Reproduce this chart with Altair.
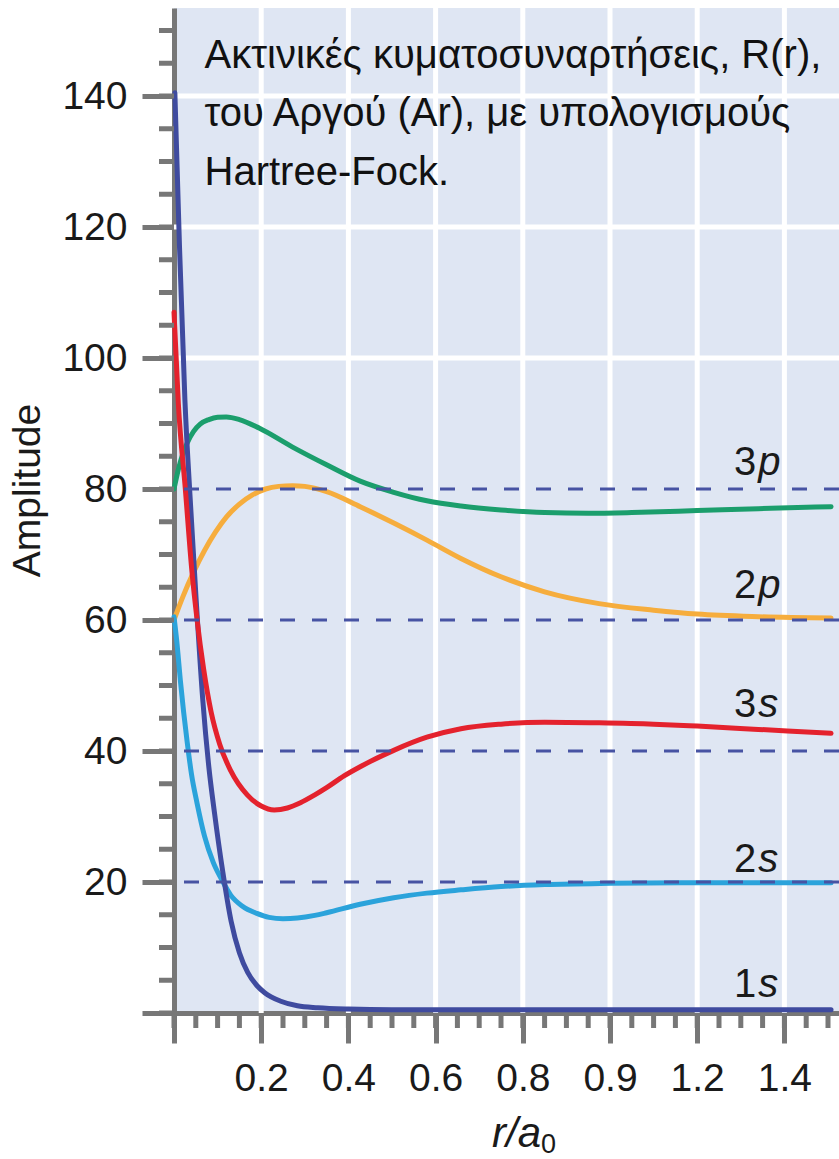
import altair as alt
import pandas as pd

# ---------------- data ----------------
r_1s = [0.002, 0.0126, 0.025, 0.038, 0.05, 0.066, 0.08, 0.093, 0.112, 0.131, 0.15, 0.169, 0.19, 0.208, 0.245, 0.283, 0.33, 0.4, 0.5, 0.7, 1.0, 1.3, 1.507]
v_1s = [140.5, 117, 93.6, 77.5, 64, 47.8, 37.5, 30.5, 21.5, 14, 9.2, 6.2, 4.2, 3.1, 1.8, 1.1, 0.8, 0.6, 0.5, 0.5, 0.5, 0.5, 0.5]

r_2s = [0.0, 0.006, 0.015, 0.022, 0.03, 0.04, 0.053, 0.07, 0.09, 0.11, 0.13, 0.157, 0.19, 0.218, 0.25, 0.283, 0.323, 0.35, 0.427, 0.504, 0.58, 0.658, 0.75, 0.85, 1.0, 1.2, 1.507]
v_2s = [60.5, 57, 50.5, 46, 41.5, 36.5, 32, 27, 23, 20.3, 18, 16.3, 15.2, 14.6, 14.4, 14.5, 14.9, 15.3, 16.6, 17.6, 18.3, 18.8, 19.3, 19.6, 19.8, 19.9, 19.9]

r_3s = [0.0, 0.01, 0.026, 0.041, 0.053, 0.068, 0.085, 0.105, 0.13, 0.168, 0.2, 0.23, 0.26, 0.29, 0.323, 0.35, 0.39, 0.427, 0.504, 0.58, 0.658, 0.75, 0.85, 0.975, 1.1, 1.2, 1.34, 1.507]
v_3s = [107, 93, 80, 67.5, 60, 52.5, 46, 41, 37, 33.3, 31.6, 31.0, 31.3, 32.1, 33.3, 34.4, 36.2, 37.6, 40.1, 42.1, 43.4, 44.1, 44.4, 44.3, 44.1, 43.8, 43.3, 42.7]

r_2p = [0.0, 0.02, 0.045, 0.07, 0.095, 0.12, 0.15, 0.18, 0.21, 0.24, 0.272, 0.3, 0.35, 0.427, 0.504, 0.58, 0.658, 0.75, 0.85, 0.975, 1.1, 1.2, 1.34, 1.507]
v_2p = [60, 63.5, 67.3, 70.6, 73.4, 75.7, 77.7, 79.1, 80.0, 80.4, 80.5, 80.4, 79.6, 77.3, 74.8, 72.2, 69.4, 66.6, 64.3, 62.5, 61.5, 60.9, 60.5, 60.3]

r_3p = [0.0, 0.01, 0.02, 0.03, 0.045, 0.06, 0.08, 0.1, 0.12, 0.15, 0.195, 0.272, 0.35, 0.427, 0.504, 0.58, 0.658, 0.75, 0.85, 0.95, 1.05, 1.2, 1.34, 1.507]
v_3p = [80, 83, 85.3, 87, 88.8, 89.9, 90.6, 90.95, 91, 90.6, 89.3, 86.4, 83.7, 81.2, 79.5, 78.2, 77.4, 76.8, 76.4, 76.3, 76.4, 76.7, 77, 77.3]

# draw order (bottom -> top) and colours
orbital_names = ["2p", "3p", "2s", "1s", "3s"]
orbital_colors = ["#f6ad3d", "#1b9e6c", "#2ba3db", "#3f4b9f", "#e4222d"]

# dashed reference levels
dash_levels = [20, 40, 60, 80]
# white grid lines
grid_levels = [100, 120, 140]
grid_r = [0.2, 0.4, 0.6, 0.8, 1.0, 1.2, 1.4]

# curve labels
label_num = ["1", "2", "3", "2", "3"]
label_let = ["s", "s", "s", "p", "p"]
label_val = [2.4, 21.5, 45.2, 63.4, 82.1]
label_r = [1.338, 1.338, 1.338, 1.338, 1.338]

# axis ticks
y_tick_values = [0, 20, 40, 60, 80, 100, 120, 140]
y_minor_values = [5 * i for i in range(0, 31)]
x_tick_values = [0, 0.2, 0.4, 0.6, 0.8, 1.0, 1.2, 1.4]
x_tick_labels = ["", "0.2", "0.4", "0.6", "0.8", "0.9", "1.2", "1.4"]
x_minor_values = [round(0.05 * i, 2) for i in range(0, 31)]

anno_lines = ["Ακτινικές κυματοσυναρτήσεις, R(r),", "του Αργού (Ar), με υπολογισμούς", "Hartree-Fock."]
anno_r = [0.07]
anno_v = [144.3]

# ---------------- build ----------------
W, H = 665, 1005
X_MAX = 665 / 436.0
Y_MAX = 1005 / 6.55

xs = alt.Scale(domain=[0, X_MAX], nice=False, zero=False)
ys = alt.Scale(domain=[0, Y_MAX], nice=False, zero=False)

AX_GRAY = "#777777"
FONT = "Liberation Sans"

label_js = "[" + ",".join("'" + s + "'" for s in x_tick_labels) + "][round(datum.value*5)]"

x_axis = alt.Axis(values=x_tick_values, labelExpr=label_js, title=None, grid=False,
                  domainColor=AX_GRAY, domainWidth=5, tickColor=AX_GRAY, tickWidth=5,
                  tickSize=30, labelFontSize=39, labelFont=FONT, labelColor="#1a1a1a",
                  labelBaseline="alphabetic", labelPadding=47, labelFlush=False)
y_axis = alt.Axis(values=y_tick_values, labelExpr="datum.value == 0 ? '' : datum.label",
                  title="Amplitude", titleFontSize=39, titleFont=FONT, titleFontWeight="normal",
                  titleColor="#1a1a1a", titleAngle=270, titleX=-147, titleY=482,
                  titleAlign="center", titleBaseline="middle",
                  grid=False, domainColor=AX_GRAY, domainWidth=5, tickColor=AX_GRAY, tickWidth=5,
                  tickSize=32, labelFontSize=39, labelFont=FONT, labelColor="#1a1a1a",
                  labelPadding=15, labelFlush=False)

X = alt.X("r:Q", scale=xs, axis=x_axis)
Y = alt.Y("v:Q", scale=ys, axis=y_axis)

series = {
    "1s": (r_1s, v_1s), "2s": (r_2s, v_2s), "3s": (r_3s, v_3s),
    "2p": (r_2p, v_2p), "3p": (r_3p, v_3p),
}

layers = []

# white grid lines
gv_df = pd.DataFrame({"r": grid_r})
layers.append(alt.Chart(gv_df).mark_rule(color="white", strokeWidth=5).encode(x=X))
gh_df = pd.DataFrame({"v": grid_levels})
layers.append(alt.Chart(gh_df).mark_rule(color="white", strokeWidth=5).encode(y=Y))

# curves
for name, col in zip(orbital_names, orbital_colors):
    rs, vs = series[name]
    df = pd.DataFrame({"r": rs, "v": vs, "i": list(range(len(rs)))})
    layers.append(
        alt.Chart(df).mark_line(color=col, strokeWidth=5, interpolate="monotone",
                                strokeCap="round")
        .encode(x=X, y=Y, order="i:Q")
    )

# dashed levels
dash_df = pd.DataFrame({"v": dash_levels})
layers.append(alt.Chart(dash_df).mark_rule(color="#4753a3", strokeWidth=2.8, strokeDash=[15, 17])
              .encode(y=Y))

# minor ticks
ymin_df = pd.DataFrame({"v": y_minor_values})
layers.append(alt.Chart(ymin_df).mark_rule(color=AX_GRAY, strokeWidth=5)
              .encode(y=Y, x=alt.value(-15), x2=alt.value(0)))
xmin_df = pd.DataFrame({"r": x_minor_values})
layers.append(alt.Chart(xmin_df).mark_rule(color=AX_GRAY, strokeWidth=5)
              .encode(x=X, y=alt.value(H), y2=alt.value(H + 15)))

# curve labels
lab_df = pd.DataFrame({"r": label_r, "v": label_val, "num": label_num, "let": label_let})
layers.append(alt.Chart(lab_df).mark_text(font=FONT, fontSize=40, align="right",
                                          baseline="alphabetic", color="#1a1a1a", dx=-1)
              .encode(x=X, y=Y, text="num:N"))
layers.append(alt.Chart(lab_df).mark_text(font=FONT, fontSize=40, align="left", fontStyle="italic",
                                          baseline="alphabetic", color="#1a1a1a", dx=1)
              .encode(x=X, y=Y, text="let:N"))

# annotation
anno_df = pd.DataFrame({"r": anno_r, "v": anno_v, "t": [anno_lines]})
layers.append(alt.Chart(anno_df).mark_text(font=FONT, fontSize=40, align="left",
                                           baseline="alphabetic", lineHeight=58.5, color="#111111")
              .encode(x=X, y=Y, text="t"))

# x-axis title r/a0
xt_df = pd.DataFrame({"a": [1]})
layers.append(alt.Chart(xt_df).mark_text(text="r/a", font=FONT, fontSize=42, fontStyle="italic",
                                         align="left", baseline="alphabetic", color="#1a1a1a")
              .encode(x=alt.value(318), y=alt.value(1139)))
layers.append(alt.Chart(xt_df).mark_text(text="0", font=FONT, fontSize=27,
                                         align="left", baseline="alphabetic", color="#1a1a1a")
              .encode(x=alt.value(367), y=alt.value(1145)))

chart = (
    alt.layer(*layers)
    .properties(width=W, height=H,
                autosize=alt.AutoSizeParams(type="none"),
                padding={"left": 174, "top": 8, "right": 0, "bottom": 146})
    .configure(background="white")
    .configure_view(fill="#dfe6f3", strokeWidth=0)
)

chart.save("out.html", embed_options={"renderer": "svg", "actions": False})
